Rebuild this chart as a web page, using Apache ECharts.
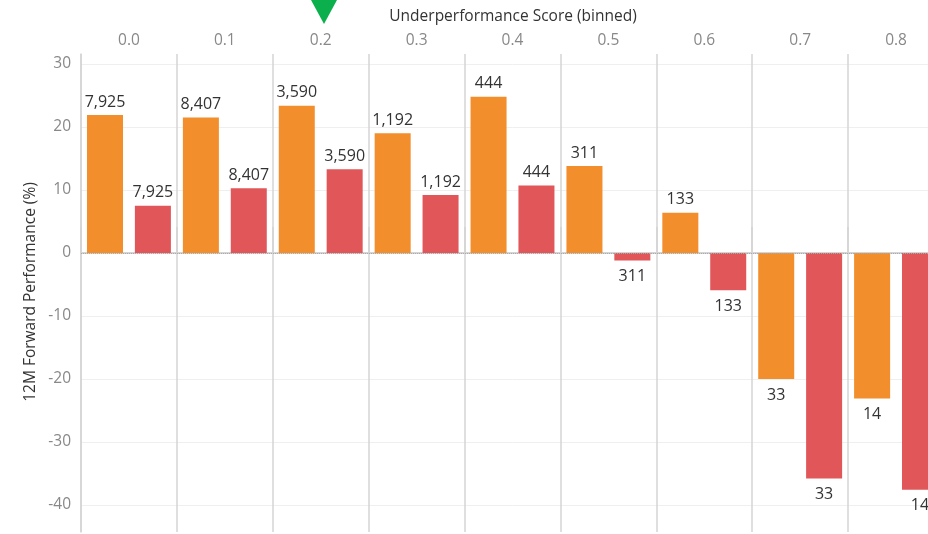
<!DOCTYPE html>
<html>
<head>
<meta charset="utf-8">
<script src="https://cdn.jsdelivr.net/npm/echarts@6/dist/echarts.min.js"></script>
<style>
html,body{margin:0;padding:0;background:#fff;overflow:hidden;}
#chart{width:945px;height:534px;}
</style>
</head>
<body>
<div id="chart"></div>
<script>
const categories = ['0.0','0.1','0.2','0.3','0.4','0.5','0.6','0.7','0.8'];
const orangeValues = [21.9, 21.5, 23.4, 19.0, 24.8, 13.8, 6.4, -20.0, -23.1];
const redValues = [7.5, 10.3, 13.3, 9.2, 10.7, -1.2, -5.9, -35.8, -37.6];
const counts = [7925, 8407, 3590, 1192, 444, 311, 133, 33, 14];
const yTicks = [-40, -30, -20, -10, 0, 10, 20, 30];

const FONT = '"Open Sans", sans-serif';
const chart = echarts.init(document.getElementById('chart'));

function labelCfg() {
  return {
    show: true,
    position: 'outside',
    distance: 5,
    color: '#333',
    fontFamily: FONT,
    fontSize: 16,
    formatter: p => counts[p.dataIndex].toLocaleString('en-US')
  };
}
function items(values) {
  return values.map(v => v < 0 ? {value: v, label: {distance: 8}} : v);
}

chart.setOption({
  animation: false,
  textStyle: {fontFamily: FONT},
  grid: {left: 81, right: 1, top: 54, bottom: 2, containLabel: false},
  graphic: [
    {type: 'polygon', shape: {points: [[311, 0], [337, 0], [324, 24]]}, style: {fill: '#0bb04c'}},
    {type: 'text', x: 513, y: 16.5, style: {text: 'Underperformance Score (binned)', fill: '#333', font: '15.5px ' + FONT, align: 'center', verticalAlign: 'middle'}},
    {type: 'text', x: 31, y: 292, rotation: Math.PI/2, style: {text: '12M Forward Performance (%)', fill: '#333', font: '15.5px ' + FONT, align: 'center', verticalAlign: 'middle'}}
  ],
  xAxis: {
    type: 'category',
    data: categories,
    position: 'top',
    axisLine: {show: true, lineStyle: {color: '#d4d4d4', width: 2}},
    axisTick: {show: true, length: 26, lineStyle: {color: '#d4d4d4', width: 1.5}},
    axisLabel: {color: '#888', fontSize: 15.5, fontFamily: FONT, margin: 5},
    splitLine: {show: true, lineStyle: {color: '#d4d4d4', width: 1.5}}
  },
  yAxis: {
    type: 'value',
    min: -44.3,
    max: 31.6,
    axisLine: {show: true, lineStyle: {color: '#d4d4d4', width: 1.5}},
    axisTick: {show: false, customValues: yTicks},
    axisLabel: {customValues: yTicks, color: '#888', fontSize: 15.5, fontFamily: FONT, margin: 10},
    splitLine: {show: true, lineStyle: {color: '#efefef', width: 1}}
  },
  series: [
    {
      type: 'bar',
      data: items(orangeValues),
      barCategoryGap: '12.5%',
      barGap: '33%',
      itemStyle: {color: '#f28e2b'},
      label: labelCfg(),
      markLine: {
        silent: true,
        symbol: 'none',
        label: {show: false},
        lineStyle: {color: '#aaa', type: 'dotted', width: 1},
        data: [{yAxis: 0}]
      }
    },
    {
      type: 'bar',
      data: items(redValues),
      itemStyle: {color: '#e15759'},
      label: labelCfg()
    }
  ]
});
</script>
</body>
</html>
